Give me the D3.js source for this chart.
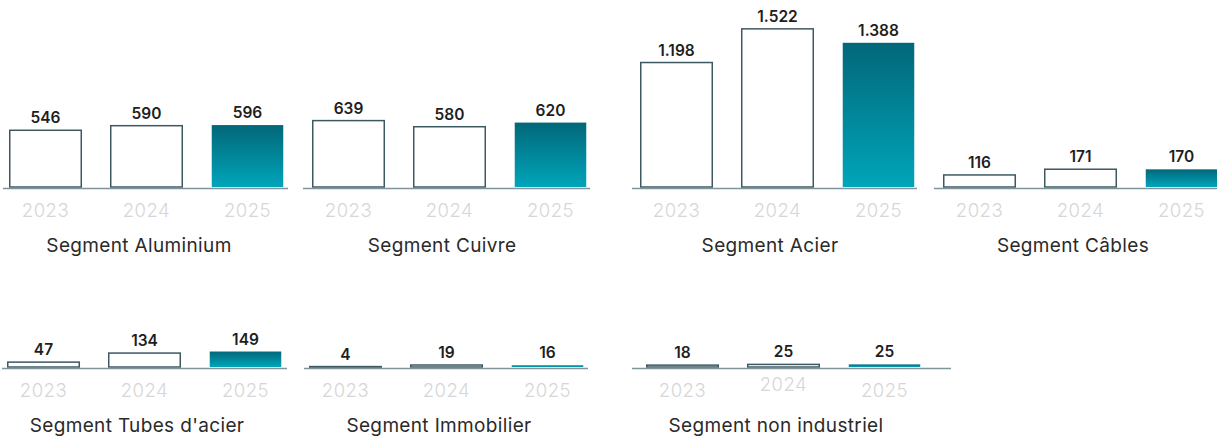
<!DOCTYPE html>
<html>
<head>
<meta charset="utf-8">
<script src="https://cdn.jsdelivr.net/npm/d3@7"></script>
<style>
  html, body { margin: 0; padding: 0; background: #fff; }
  svg { display: block; }
  text { font-family: Inter, Lato, "Noto Sans", sans-serif; }
</style>
</head>
<body>
<svg id="chart" width="1217" height="438"></svg>
<script>
// Years shown under every segment
const years = ["2023", "2024", "2025"];

// Segment names
const segmentNames = [
  "Segment Aluminium", "Segment Cuivre", "Segment Acier", "Segment Câbles",
  "Segment Tubes d'acier", "Segment Immobilier", "Segment non industriel"
];

// Values per segment, one per year
const aluminium     = [546, 590, 596];
const cuivre        = [639, 580, 620];
const acier         = [1198, 1522, 1388];
const cables        = [116, 171, 170];
const tubesAcier    = [47, 134, 149];
const immobilier    = [4, 19, 16];
const nonIndustriel = [18, 25, 25];

const segmentValues = [aluminium, cuivre, acier, cables, tubesAcier, immobilier, nonIndustriel];

// Panel placement: left offset, baseline, axis extent, optional year-label lift
const layout = [
  { x: 0,   base: 188, axisL: 3,   axisR: 288 },
  { x: 303, base: 188, axisL: 303, axisR: 590 },
  { x: 631, base: 188, axisL: 632, axisR: 917 },
  { x: 934, base: 188, axisL: 934, axisR: 1217 },
  { x: -2,  base: 368, axisL: 2,   axisR: 287 },
  { x: 300, base: 368, axisL: 304, axisR: 588 },
  { x: 637, base: 368, axisL: 632, axisR: 951, lift: { "2024": -6 } }
];

const svg = d3.select("#chart");

// Shared value scale: same px-per-unit in every panel
const pxPerUnit = 0.1039;
const valueMax = 1600;

const fmt = d3.formatLocale({ decimal: ",", thousands: ".", grouping: [3], currency: ["", "€"] }).format(",d");

// Gradient for the current-year bar
const defs = svg.append("defs");
const grad = defs.append("linearGradient")
  .attr("id", "barGrad").attr("x1", 0).attr("y1", 0).attr("x2", 0).attr("y2", 1);
grad.append("stop").attr("offset", "0%").attr("stop-color", "#03677a");
grad.append("stop").attr("offset", "100%").attr("stop-color", "#00a5b9");

segmentValues.forEach((vals, i) => {
  const L = layout[i];
  const base = L.base - 1;

  const x = d3.scaleBand()
    .domain(years)
    .range([L.x - 5, L.x + 298])
    .paddingInner(0.277)
    .paddingOuter(0.1386);

  const y = d3.scaleLinear()
    .domain([0, valueMax])
    .range([base, base - valueMax * pxPerUnit]);

  const g = svg.append("g");

  // Bars
  g.selectAll("rect.bar")
    .data(vals)
    .join("rect")
    .attr("class", "bar")
    .attr("x", (d, j) => x(years[j]) + 0.75)
    .attr("width", x.bandwidth() - 1.5)
    .attr("y", d => y(d))
    .attr("height", d => Math.max(0.5, base - y(d)))
    .attr("fill", (d, j) => j === 2 ? "url(#barGrad)" : "#ffffff")
    .attr("stroke", (d, j) => j === 2 ? "none" : "#3e5862")
    .attr("stroke-width", 1.5);

  // Value labels
  g.selectAll("text.val")
    .data(vals)
    .join("text")
    .attr("class", "val")
    .attr("x", (d, j) => x(years[j]) + x.bandwidth() / 2)
    .attr("y", d => y(d) - 7)
    .attr("text-anchor", "middle")
    .attr("font-size", 15.5)
    .attr("font-weight", 600)
    .attr("fill", "#1e1e1e")
    .text(d => fmt(d));

  // Baseline
  g.append("line")
    .attr("x1", L.axisL).attr("x2", L.axisR)
    .attr("y1", L.base + 0.5).attr("y2", L.base + 0.5)
    .attr("stroke", "#7f959b")
    .attr("stroke-width", 1.6);

  // Year labels via a bottom axis
  const axis = g.append("g")
    .attr("transform", `translate(0,${L.base + 29})`)
    .call(d3.axisBottom(x).tickSize(0).tickPadding(0));
  axis.select(".domain").remove();
  axis.selectAll("text")
    .attr("dy", 0)
    .attr("y", d => (L.lift && L.lift[d]) || 0)
    .attr("font-size", 18.5)
    .attr("font-weight", 300)
    .attr("letter-spacing", 0.5)
    .attr("font-family", "Inter, Lato, 'Noto Sans', sans-serif")
    .attr("fill", "#d6d6d6");

  // Segment title
  g.append("text")
    .attr("x", L.x + 139)
    .attr("y", L.base + 64)
    .attr("text-anchor", "middle")
    .attr("font-size", 19)
    .attr("letter-spacing", 0.35)
    .attr("fill", "#2a2a2a")
    .text(segmentNames[i]);
});
</script>
</body>
</html>
